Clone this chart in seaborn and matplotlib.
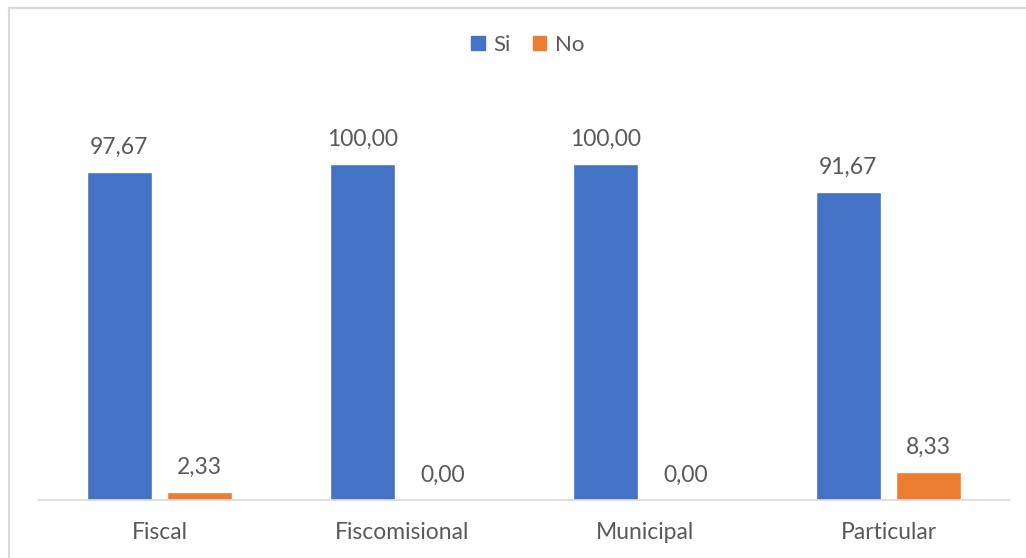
import pandas as pd
import numpy as np
import seaborn as sns
import matplotlib.pyplot as plt
from matplotlib.patches import Rectangle

categorias = ['Fiscal', 'Fiscomisional', 'Municipal', 'Particular']
si = [97.67, 100.00, 100.00, 91.67]
no = [2.33, 0.00, 0.00, 8.33]
series = ['Si', 'No']
colores = ['#4472C4', '#ED7D31']

df = pd.DataFrame({'categoria': categorias * 2,
                   'respuesta': ['Si'] * 4 + ['No'] * 4,
                   'valor': si + no})

sns.set_style('white')
plt.rcParams['font.family'] = ['Lato', 'DejaVu Sans']
texto = '#595959'

fig = plt.figure(figsize=(10.26, 5.58), dpi=100)
ax = fig.add_axes([38 / 1026, 1 - 500 / 558, 972 / 1026, 403 / 558])

sns.barplot(data=df, x='categoria', y='valor', hue='respuesta', hue_order=series,
            palette=colores, width=0.66, gap=0.19, saturation=1, ax=ax, legend=False)

ax.set_ylim(0, 120)
ax.set_xlim(-0.5, 3.5)
ax.set_xlabel('')
ax.set_ylabel('')
ax.set_yticks([])
ax.tick_params(axis='x', length=0, labelsize=16.5, labelcolor=texto, pad=16)
for s in ['top', 'right', 'left']:
    ax.spines[s].set_visible(False)
ax.spines['bottom'].set_color('#D9D9D9')
ax.spines['bottom'].set_linewidth(1.2)

for cont in ax.containers:
    for bar in cont:
        h = bar.get_height()
        ax.annotate(f'{h:.2f}'.replace('.', ','),
                    (bar.get_x() + bar.get_width() / 2, h),
                    xytext=(0, 10), textcoords='offset points',
                    ha='center', va='bottom', fontsize=16.5, color=texto)

# leyenda
handles = [Rectangle((0, 0), 1, 1, color=c) for c in colores]
fig.legend(handles, series, loc='center', bbox_to_anchor=(528 / 1026, 1 - 45 / 558),
           ncol=2, frameon=False, fontsize=16, labelcolor=texto,
           handlelength=0.6, handleheight=0.6, handletextpad=0.4, columnspacing=1.0)

# borde del grafico
fig.add_artist(plt.Line2D([8.5 / 1026, 8.5 / 1026], [0, 1 - 8 / 558], color='#D9D9D9', lw=1.5))
fig.add_artist(plt.Line2D([8.5 / 1026, 1], [1 - 8 / 558, 1 - 8 / 558], color='#D9D9D9', lw=1.5))

fig.savefig('out.png', dpi=100)
